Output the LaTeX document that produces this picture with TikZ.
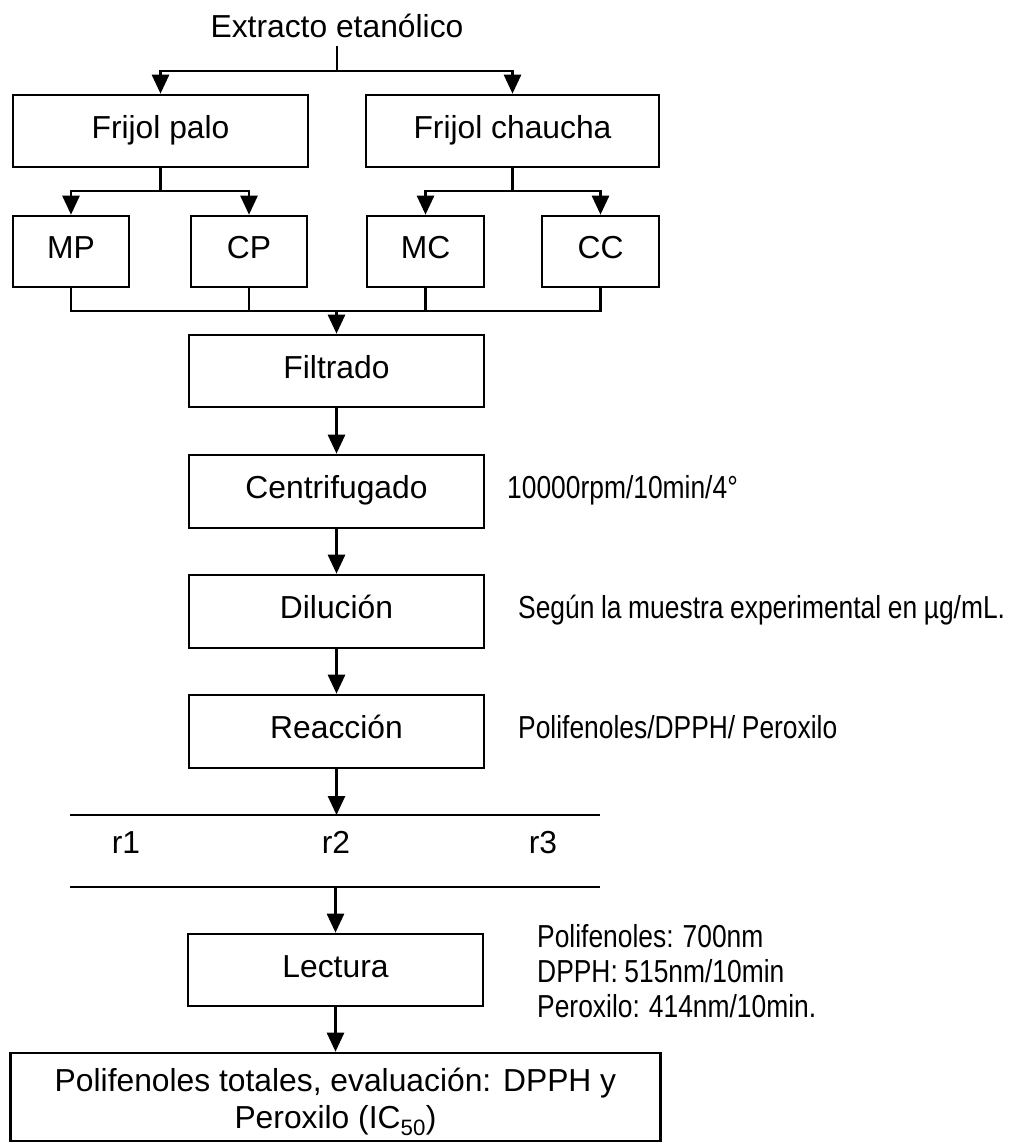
\documentclass[tikz,border=0pt]{standalone}
\usepackage{fontspec}
\setmainfont{Liberation Sans}
\newfontfamily\narrowfont[FakeStretch=0.83,WordSpace=0.9]{Liberation Sans}
\usetikzlibrary{arrows.meta}
\begin{document}
\begin{tikzpicture}[x=1pt,y=-1pt,
  basefont/.style={font=\fontsize{31.8}{38}\selectfont},
  lbl/.style={basefont, inner sep=0pt, text height=20pt, text depth=6pt},
  box/.style={lbl, draw, line width=2.6pt},
  note/.style={inner sep=0pt, anchor=west, font=\narrowfont\fontsize{31.8}{35}\selectfont, text height=20pt, text depth=6pt},
  ln/.style={line width=2.6pt},
  arr/.style={line width=2.6pt, -{Triangle[length=19pt,width=17pt]}}]
\useasboundingbox (0,0) rectangle (1013,1143);
\fill[white] (0,0) rectangle (1013,1143);

% title
\node[lbl, inner ysep=3pt] (title) at (337,30) {Extracto etanólico};

% first level
\node[box, minimum width=295, minimum height=72] (fp) at (160.5,131) {Frijol palo};
\node[box, minimum width=293, minimum height=72] (fc) at (512.5,131) {Frijol chaucha};

% second level
\node[box, minimum width=116, minimum height=71] (mp) at (71,251.5) {MP};
\node[box, minimum width=116, minimum height=71] (cp) at (249,251.5) {CP};
\node[box, minimum width=117, minimum height=71] (mc) at (425.5,251.5) {MC};
\node[box, minimum width=117, minimum height=71] (cc) at (600.5,251.5) {CC};

% main column
\node[box, minimum width=295, minimum height=72] (filt) at (336.5,371) {Filtrado};
\node[box, minimum width=295, minimum height=73] (cent) at (336.5,491.5) {Centrifugado};
\node[box, minimum width=295, minimum height=73] (dil) at (336.5,611.5) {Dilución};
\node[box, minimum width=295, minimum height=73] (reac) at (336.5,731.5) {Reacción};
\node[box, minimum width=295, minimum height=72] (lect) at (335.5,970) {Lectura};
\node[draw, line width=2.6pt, inner sep=0pt, minimum width=650, minimum height=88] (final) at (335.5,1097) {};
\node[font=\fontsize{31.8}{37}\selectfont, inner sep=0pt, align=center] (ftext) at (335.5,1102)
  {Polifenoles totales, evaluación: DPPH y\\Peroxilo (IC\textsubscript{50})};

% annotations
\node[note] (ncent) at (507,491.5) {10000rpm/10min/4°};
\node[note] (ndil) at (518,611.5) {Según la muestra experimental en µg/mL.};
\node[note] (nreac) at (518,731.5) {Polifenoles/DPPH/ Peroxilo};
\node[note, align=left, text height=, text depth=] (nlect) at (537,971) {Polifenoles: 700nm\\DPPH: 515nm/10min\\Peroxilo: 414nm/10min.};

% replicate labels
\node[lbl] (r1) at (126,846) {r1};
\node[lbl] (r2) at (336,846) {r2};
\node[lbl] (r3) at (543,846) {r3};

% connectors
\coordinate (j1) at (337,71);
\draw[ln] (title.south) -- (j1);
\draw[arr] (j1) -| (fp.north);
\draw[arr] (j1) -| (fc.north);

\coordinate (j2) at (160.5,191);
\coordinate (j3) at (512.5,191);
\draw[ln] (fp.south) -- (j2);
\draw[arr] (j2) -| (mp.north);
\draw[arr] (j2) -| (cp.north);
\draw[ln] (fc.south) -- (j3);
\draw[arr] (j3) -| (mc.north);
\draw[arr] (j3) -| (cc.north);

\coordinate (j4) at (336.5,311);
\draw[ln] (mp.south) |- (j4);
\draw[ln] (cp.south) |- (j4);
\draw[ln] (mc.south) |- (j4);
\draw[ln] (cc.south) |- (j4);
\draw[arr] (j4) -- (filt.north);

\draw[arr] (filt.south) -- (cent.north);
\draw[arr] (cent.south) -- (dil.north);
\draw[arr] (dil.south) -- (reac.north);

\coordinate (la1) at (70,815);
\coordinate (la2) at (600,815);
\coordinate (lb1) at (70,887);
\coordinate (lb2) at (600,887);
\draw[ln] (la1) -- (la2);
\draw[ln] (lb1) -- (lb2);
\draw[arr] (reac.south) -- (reac.south |- la1);
\draw[arr] (lect.north |- lb1) -- (lect.north);
\draw[arr] (lect.south) -- (final.north);
\end{tikzpicture}
\end{document}
